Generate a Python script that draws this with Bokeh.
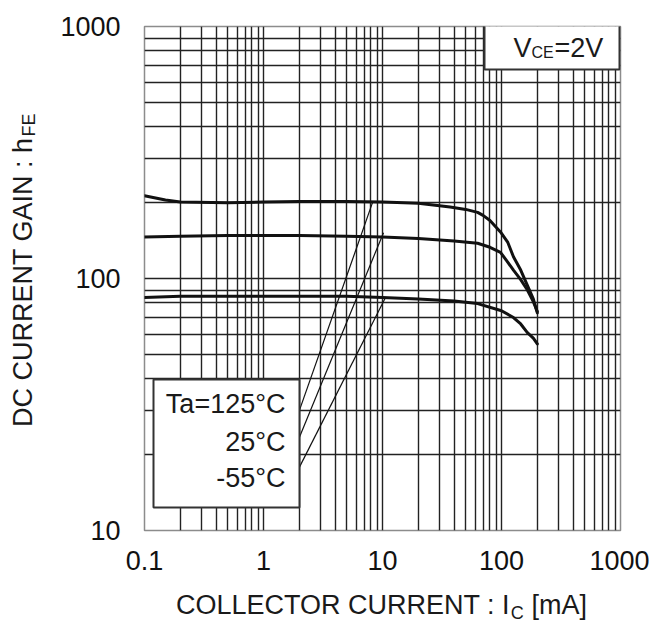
import math
from bokeh.plotting import figure
from bokeh.layouts import row, column
from bokeh.models import FixedTicker, BoxAnnotation, Label, Range1d
from bokeh.embed import file_html
from bokeh.resources import INLINE

# ---------------- data ----------------
ic_125 = [0.1, 0.15, 0.2, 0.5, 1, 2, 5, 10, 20, 37, 50, 63, 70, 80, 98, 113, 126, 145, 165, 185, 200]
hfe_125 = [213, 205, 201, 200, 201, 202, 202, 201, 199, 192, 188, 183, 178, 170, 153, 139, 122, 108, 94, 83, 73]

ic_25 = [0.1, 0.2, 0.5, 1, 2, 5, 10, 20, 40, 63, 80, 98, 110, 126, 145, 165, 185, 200]
hfe_25 = [146, 147, 148, 148, 148, 147, 146, 144, 141, 138, 133, 127, 118, 108, 99, 90, 81, 74]

ic_m55 = [0.1, 0.2, 0.5, 1, 2, 5, 10, 20, 40, 63, 100, 126, 145, 165, 185, 200]
hfe_m55 = [84, 85, 85, 85, 85, 85, 84, 83, 81.5, 79.5, 74.5, 70, 66, 61, 58, 55]

# leader lines from the legend box to the curves
leader_x0 = [2.0, 2.0, 2.0]
leader_y0 = [29.9, 23.4, 17.8]
leader_x1 = [8.24, 10.2, 10.6]
leader_y1 = [200, 152, 84]

legend_texts = ["Ta=125°C", "25°C", "-55°C"]

x_ticks = [0.1, 1, 10, 100, 1000]
x_tick_labels = ["0.1", "1", "10", "100", "1000"]
y_ticks = [10, 100, 1000]
y_tick_labels = ["10", "100", "1000"]

x_minor = [m * 10.0 ** e for e in range(-1, 3) for m in range(2, 10)]
y_minor = [m * 10.0 ** e for e in range(1, 3) for m in range(2, 10)]

# ---------------- layout ----------------
W, H = 649, 625
LW = 50            # left strip (y title)
BH = 40            # bottom strip (x title)
FL, FR, FT, FB = 144, 620, 26, 530   # frame edges in page px
X0, X1 = 0.1, 1000
Y0, Y1 = 10, 1000

def px2x(px):
    lx0, lx1 = math.log10(X0), math.log10(X1)
    return 10 ** (lx0 + (px - FL) / (FR - FL) * (lx1 - lx0))

def px2y(py):
    ly0, ly1 = math.log10(Y0), math.log10(Y1)
    return 10 ** (ly1 - (py - FT) / (FB - FT) * (ly1 - ly0))

FONT = "Liberation Sans"
INK = "#111111"
TXT = "#1a1a1a"
GRID = "#222222"

p = figure(width=W - LW, height=H - BH, x_axis_type="log", y_axis_type="log",
           x_range=(X0, X1), y_range=(Y0, Y1), title=None,
           output_backend="svg", toolbar_location=None,
           min_border_left=FL - LW, min_border_right=W - FR,
           min_border_top=FT, min_border_bottom=H - BH - FB)
p.background_fill_color = "white"
p.border_fill_color = "white"
p.outline_line_color = "#8c8c8c"
p.outline_line_width = 1.5

# axes
p.xaxis.ticker = FixedTicker(ticks=x_ticks)
p.yaxis.ticker = FixedTicker(ticks=y_ticks)
p.xaxis.major_label_overrides = {t: l for t, l in zip(x_ticks, x_tick_labels)}
p.yaxis.major_label_overrides = {t: l for t, l in zip(y_ticks, y_tick_labels)}
for ax in (p.xaxis, p.yaxis):
    ax.axis_line_color = None
    ax.major_tick_line_color = None
    ax.minor_tick_line_color = None
    ax.major_tick_out = 0
    ax.major_tick_in = 0
    ax.minor_tick_out = 0
    ax.minor_tick_in = 0
    ax.major_label_text_font = FONT
    ax.major_label_text_font_size = "27px"
    ax.major_label_text_color = INK
p.yaxis.major_label_standoff = 24
p.xaxis.major_label_standoff = 20

# grid (interior lines only; frame edges are the gray outline)
p.xgrid.ticker = FixedTicker(ticks=[1, 10, 100], minor_ticks=x_minor)
p.ygrid.ticker = FixedTicker(ticks=[100], minor_ticks=y_minor)
for g in (p.xgrid, p.ygrid):
    g.grid_line_color = GRID
    g.grid_line_width = 1.4
    g.minor_grid_line_color = GRID
    g.minor_grid_line_width = 1.4

# curves
for xs, ys in ((ic_125, hfe_125), (ic_25, hfe_25), (ic_m55, hfe_m55)):
    p.line(xs, ys, line_color=INK, line_width=3, line_join="round", line_cap="round")

# leader lines
p.segment(x0=leader_x0, y0=leader_y0, x1=leader_x1, y1=leader_y1,
          line_color=INK, line_width=1.2)

# legend box
p.add_layout(BoxAnnotation(left=px2x(153), right=px2x(299), top=px2y(379), bottom=px2y(507),
                           fill_color="white", fill_alpha=1.0,
                           line_color="#333333", line_width=2, line_alpha=1.0))
for txt, py in zip(legend_texts, [403, 441, 477]):
    p.add_layout(Label(x=px2x(285), y=px2y(py), text=txt, text_align="right",
                       text_baseline="middle", text_font=FONT, text_font_size="27px",
                       text_color=TXT))

# VCE box
p.add_layout(BoxAnnotation(left=px2x(484), right=px2x(619), top=px2y(24), bottom=px2y(69),
                           fill_color="white", fill_alpha=1.0,
                           line_color="#333333", line_width=2, line_alpha=1.0))
p.add_layout(Label(x=px2x(531), y=px2y(47.5), text="V", text_align="right",
                   text_baseline="middle", text_font=FONT, text_font_size="27px",
                   text_color=TXT))
p.add_layout(Label(x=px2x(531), y=px2y(51.5), text="CE", text_align="left",
                   text_baseline="middle", text_font=FONT, text_font_size="16px",
                   text_color=TXT))
p.add_layout(Label(x=px2x(554), y=px2y(47.5), text="=2V", text_align="left",
                   text_baseline="middle", text_font=FONT, text_font_size="27px",
                   text_color=TXT))

# ---------------- strips for axis titles ----------------
def strip(w, h):
    f = figure(width=w, height=h, x_range=Range1d(0, w), y_range=Range1d(h, 0),
               title=None, output_backend="svg", toolbar_location=None,
               min_border=0, x_axis_location=None, y_axis_location=None)
    f.grid.visible = False
    f.outline_line_color = None
    f.background_fill_color = "white"
    f.border_fill_color = "white"
    return f

# y title (left strip, page coords)
ly = strip(LW, H)
ly.add_layout(Label(x=22, y=137, text="DC CURRENT GAIN : h", text_align="right",
                    text_baseline="middle", angle=math.pi / 2, text_font=FONT,
                    text_font_size="27px", text_color=TXT))
ly.add_layout(Label(x=28, y=136, text="FE", text_align="left",
                    text_baseline="middle", angle=math.pi / 2, text_font=FONT,
                    text_font_size="18px", text_color=TXT))

# x title (bottom strip, page x minus LW, page y minus (H - BH))
bx = strip(W - LW, BH)
oy = H - BH
bx.add_layout(Label(x=510 - LW, y=604 - oy, text="COLLECTOR CURRENT : I", text_align="right",
                    text_baseline="middle", text_font=FONT, text_font_size="27px",
                    text_color=TXT))
bx.add_layout(Label(x=511 - LW, y=612 - oy, text="C", text_align="left",
                    text_baseline="middle", text_font=FONT, text_font_size="18px",
                    text_color=TXT))
bx.add_layout(Label(x=537 - LW, y=604 - oy, text="[mA]", text_align="left",
                    text_baseline="middle", text_font=FONT, text_font_size="27px",
                    text_color=TXT))

layout = row(ly, column(p, bx))
open("out.html", "w").write(file_html(layout, INLINE))
